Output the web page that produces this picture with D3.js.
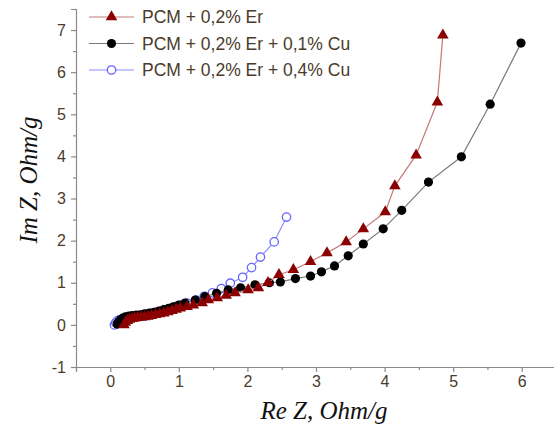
<!DOCTYPE html>
<html>
<head>
<meta charset="utf-8">
<script src="https://cdn.jsdelivr.net/npm/d3@7"></script>
<style>
  body { margin: 0; background: #fff; }
  svg { display: block; }
</style>
</head>
<body>
<div id="chart"></div>
<script>
// series names
const seriesNames = ["PCM + 0,2% Er", "PCM + 0,2% Er + 0,1% Cu", "PCM + 0,2% Er + 0,4% Cu"];

// PCM + 0,2% Er (triangles)
const erRe = [0.20,0.22,0.25,0.28,0.32,0.36,0.40,0.45,0.50,0.55,0.60,0.66,0.72,0.78,0.84,0.90,0.96,1.02,1.12,1.21,1.34,1.43,1.56,1.69,1.82,2.01,2.16,2.30,2.46,2.67,2.92,3.16,3.44,3.69,4.01,4.15,4.46,4.77,4.85];
const erIm = [0.00,0.06,0.10,0.13,0.15,0.16,0.17,0.18,0.19,0.20,0.22,0.24,0.26,0.28,0.31,0.34,0.37,0.40,0.43,0.47,0.52,0.59,0.64,0.70,0.76,0.83,0.88,1.00,1.19,1.31,1.50,1.71,1.97,2.28,2.68,3.30,4.03,5.29,6.88];

// PCM + 0,2% Er + 0,1% Cu (filled circles)
const cu1Re = [0.10,0.12,0.15,0.18,0.22,0.27,0.32,0.38,0.44,0.50,0.57,0.64,0.71,0.78,0.85,0.92,1.00,1.09,1.24,1.38,1.55,1.72,1.90,2.11,2.32,2.48,2.70,2.92,3.08,3.27,3.47,3.69,3.98,4.25,4.64,5.12,5.54,5.99];
const cu1Im = [0.02,0.07,0.12,0.16,0.19,0.21,0.22,0.23,0.24,0.26,0.28,0.30,0.33,0.36,0.39,0.43,0.47,0.52,0.59,0.67,0.75,0.83,0.88,0.95,1.00,1.02,1.10,1.16,1.26,1.40,1.64,1.92,2.28,2.72,3.39,3.99,5.24,6.69];

// PCM + 0,2% Er + 0,4% Cu (open circles)
const cu4Re = [0.06,0.08,0.10,0.13,0.17,0.21,0.26,0.31,0.37,0.43,0.49,0.55,0.61,0.67,0.73,0.79,0.85,0.91,0.97,1.04,1.12,1.25,1.37,1.49,1.62,1.75,1.93,2.06,2.19,2.39,2.57];
const cu4Im = [0.00,0.05,0.09,0.12,0.14,0.16,0.17,0.19,0.20,0.22,0.24,0.26,0.28,0.30,0.32,0.35,0.38,0.41,0.44,0.47,0.52,0.59,0.68,0.76,0.86,0.99,1.13,1.36,1.61,1.97,2.56];

const xTicks = [0, 1, 2, 3, 4, 5, 6];
const yTicks = [-1, 0, 1, 2, 3, 4, 5, 6, 7];

const width = 554, height = 430;
const svg = d3.select("#chart").append("svg")
    .attr("width", width)
    .attr("height", height);

const x = d3.scaleLinear().domain([-0.5, 6.5]).range([76, 556]);
const y = d3.scaleLinear().domain([-1, 7.5]).range([367, 9]);

const axisColor = "#8a8a8a";
const labelColor = "#4a3b2b";
const fmt = d => String(d); // plain hyphen for -1

// x axis
svg.append("g")
    .attr("transform", `translate(0,${y(-1)})`)
    .call(d3.axisBottom(x).tickValues(xTicks).tickSize(5).tickPadding(4).tickFormat(fmt));
svg.append("g")
    .attr("transform", `translate(0,${y(-1)})`)
    .call(d3.axisBottom(x).tickValues(d3.range(-0.5, 6.6, 1)).tickSize(3).tickFormat(""))
    .call(g => g.select(".domain").remove());

// y axis
svg.append("g")
    .attr("transform", `translate(${x(-0.5)},0)`)
    .call(d3.axisLeft(y).tickValues(yTicks).tickSize(5).tickPadding(5).tickFormat(fmt));
svg.append("g")
    .attr("transform", `translate(${x(-0.5)},0)`)
    .call(d3.axisLeft(y).tickValues(d3.range(-0.5, 7.6, 1)).tickSize(3).tickFormat(""))
    .call(g => g.select(".domain").remove());

svg.selectAll(".domain, .tick line").attr("stroke", axisColor).attr("stroke-width", 1.2);
svg.selectAll(".tick text")
    .attr("fill", labelColor)
    .style("font-family", "Liberation Sans, Arial, sans-serif")
    .style("font-size", "16px");

// axis titles
svg.append("text")
    .attr("x", 324).attr("y", 419)
    .attr("text-anchor", "middle")
    .style("font-family", "Liberation Serif, Times New Roman, serif")
    .style("font-style", "italic")
    .style("font-size", "25px")
    .attr("fill", "#111")
    .text("Re Z, Ohm/g");

svg.append("text")
    .attr("transform", "translate(37,180) rotate(-90)")
    .attr("text-anchor", "middle")
    .style("font-family", "Liberation Serif, Times New Roman, serif")
    .style("font-style", "italic")
    .style("font-size", "25px")
    .attr("fill", "#111")
    .text("Im Z, Ohm/g");

const line = d3.line().x(d => x(d[0])).y(d => y(d[1]));
const tri = d3.symbol().type(d3.symbolTriangle).size(58);

const series = [
    { name: seriesNames[2], pts: d3.zip(cu4Re, cu4Im), line: "#8c8cff", marker: "open" },
    { name: seriesNames[1], pts: d3.zip(cu1Re, cu1Im), line: "#7a7a7a", marker: "dot" },
    { name: seriesNames[0], pts: d3.zip(erRe, erIm), line: "#c47a7a", marker: "tri" }
];

function drawMarker(g, kind) {
    if (kind === "tri") {
        g.append("path").attr("d", tri).attr("fill", "#8b0000");
    } else if (kind === "dot") {
        g.append("circle").attr("r", 4.6).attr("fill", "#000");
    } else {
        g.append("circle").attr("r", 4.2).attr("fill", "#fff")
            .attr("stroke", "#6464ff").attr("stroke-width", 1.3);
    }
}

series.forEach(s => {
    svg.append("path")
        .datum(s.pts)
        .attr("fill", "none")
        .attr("stroke", s.line)
        .attr("stroke-width", 1.2)
        .attr("d", line);
    svg.append("g").selectAll("g")
        .data(s.pts)
        .join("g")
        .attr("transform", d => `translate(${x(d[0])},${y(d[1])})`)
        .each(function () { drawMarker(d3.select(this), s.marker); });
});

// legend
const legend = [
    { name: seriesNames[0], line: "#c47a7a", marker: "tri" },
    { name: seriesNames[1], line: "#7a7a7a", marker: "dot" },
    { name: seriesNames[2], line: "#8c8cff", marker: "open" }
];
legend.forEach((l, i) => {
    const ly = 17 + i * 26.5;
    svg.append("line")
        .attr("x1", 89).attr("x2", 134)
        .attr("y1", ly).attr("y2", ly)
        .attr("stroke", l.line).attr("stroke-width", 1.2);
    const g = svg.append("g").attr("transform", `translate(111.5,${ly})`);
    drawMarker(g, l.marker);
    svg.append("text")
        .attr("x", 142).attr("y", ly + 6)
        .style("font-family", "Liberation Sans, Arial, sans-serif")
        .style("font-size", "17.5px")
        .attr("fill", labelColor)
        .text(l.name);
});
</script>
</body>
</html>
